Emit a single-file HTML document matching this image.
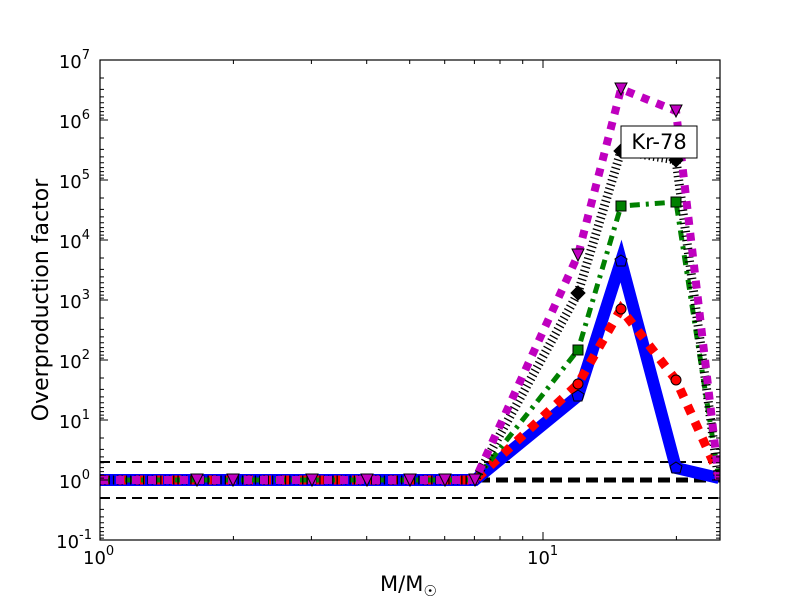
<!DOCTYPE html>
<html><head><meta charset="utf-8"><style>
body{margin:0;background:#fff;}
svg text{font-family:"DejaVu Sans","Liberation Sans",sans-serif;fill:#000;}
</style></head><body>
<svg width="800" height="600" xmlns="http://www.w3.org/2000/svg">
<defs><clipPath id="c"><rect x="100" y="60" width="620" height="480"/></clipPath></defs>
<rect width="800" height="600" fill="#fff"/>
<g clip-path="url(#c)" fill="none" stroke-linejoin="miter">
<line x1="100" y1="462" x2="720" y2="462" stroke="#000" stroke-width="2" stroke-dasharray="10 6"/>
<line x1="100" y1="498" x2="720" y2="498" stroke="#000" stroke-width="2" stroke-dasharray="10 6"/>
<line x1="100" y1="480" x2="720" y2="480" stroke="#000" stroke-width="5" stroke-dasharray="12 6"/>
<polyline stroke="#0000ff" stroke-width="12" points="100,480 197,480 233,480 312,480 367,480 410,480 445,480 475,480 578,396 621,261 676,468 719,478"/>
<polyline stroke="#ff0000" stroke-width="9" stroke-dasharray="9 9" points="100,480 197,480 233,480 312,480 367,480 410,480 445,480 475,480 578,384 621,309 676,380 719,475"/>
<polyline stroke="#008000" stroke-width="5" stroke-dasharray="10 6 3 6" points="100,480 197,480 233,480 312,480 367,480 410,480 445,480 475,480 578,350 621,206 676,202 719,480"/>
<polyline stroke="#000" stroke-width="9" stroke-dasharray="1.3 3" points="100,480 197,480 233,480 312,480 367,480 410,480 445,480 475,480 578,293 621,151 676,160 719,482"/>
<polyline stroke="#bf00bf" stroke-width="8" stroke-dasharray="8 8" points="100,480 197,480 233,480 312,480 367,480 410,480 445,480 475,480 578,255 621,89 676,111 719,480"/>
<g stroke="#000" stroke-width="1">
<polygon fill="#0000ff" points="621,255 627,259 625,266 617,266 615,259"/>
<polygon fill="#0000ff" points="578,390 584,394 582,401 574,401 572,394"/>
<polygon fill="#0000ff" points="676,462 682,466 680,473 672,473 670,466"/>
<circle fill="#ff0000" cx="578" cy="384" r="5"/><circle fill="#ff0000" cx="621" cy="309" r="5"/><circle fill="#ff0000" cx="676" cy="380" r="5"/>
<rect fill="#008000" x="573" y="345" width="10" height="10"/><rect fill="#008000" x="616" y="201" width="10" height="10"/><rect fill="#008000" x="671" y="197" width="10" height="10"/>
<polygon fill="#000" points="578,286 585,293 578,300 571,293"/><polygon fill="#000" points="621,144 628,151 621,158 614,151"/><polygon fill="#000" points="676,153 683,160 676,167 669,160"/>
<polygon fill="#bf00bf" points="572,249 584,249 578,261"/><polygon fill="#bf00bf" points="615,83 627,83 621,95"/><polygon fill="#bf00bf" points="670,105 682,105 676,117"/>
<polygon fill="#bf00bf" points="191,474 203,474 197,486"/><polygon fill="#bf00bf" points="227,474 239,474 233,486"/><polygon fill="#bf00bf" points="306,474 318,474 312,486"/><polygon fill="#bf00bf" points="361,474 373,474 367,486"/><polygon fill="#bf00bf" points="404,474 416,474 410,486"/><polygon fill="#bf00bf" points="439,474 451,474 445,486"/><polygon fill="#bf00bf" points="469,474 481,474 475,486"/>
</g>
</g>
<rect x="621" y="126" width="76" height="32" fill="#fff" stroke="#000" stroke-width="1"/>
<text x="659" y="149" font-size="21" text-anchor="middle">Kr-78</text>
<rect x="100" y="60" width="620" height="480" fill="none" stroke="#000" stroke-width="1.2"/>
<g stroke="#000" stroke-width="1">
<path d="M100,120h8M100,180h8M100,240h8M100,300h8M100,360h8M100,420h8M100,480h8M720,120h-8M720,180h-8M720,240h-8M720,300h-8M720,360h-8M720,420h-8M720,480h-8"/>
<path d="M543,540v-8M543,60v8M233.4,540v-4M311.4,540v-4M366.7,540v-4M409.7,540v-4M444.7,540v-4M474.4,540v-4M500,540v-4M522.7,540v-4M676.4,540v-4M233.4,60v4M311.4,60v4M366.7,60v4M409.7,60v4M444.7,60v4M474.4,60v4M500,60v4M522.7,60v4M676.4,60v4"/>
<path id="ym" d="M100,78h4M100,89.4h4M100,96.9h4M100,102.8h4M100,107.6h4M100,111.6h4M100,115.1h4M100,118.1h4"/>
<use href="#ym" y="60"/><use href="#ym" y="120"/><use href="#ym" y="180"/><use href="#ym" y="240"/><use href="#ym" y="300"/><use href="#ym" y="360"/><use href="#ym" y="420"/>
<use href="#ym" x="616"/><use href="#ym" x="616" y="60"/><use href="#ym" x="616" y="120"/><use href="#ym" x="616" y="180"/><use href="#ym" x="616" y="240"/><use href="#ym" x="616" y="300"/><use href="#ym" x="616" y="360"/><use href="#ym" x="616" y="420"/>
</g>
<g font-size="18" text-anchor="end">
<text x="90" y="68">10<tspan font-size="13" dy="-9">7</tspan></text>
<text x="90" y="128">10<tspan font-size="13" dy="-9">6</tspan></text>
<text x="90" y="188">10<tspan font-size="13" dy="-9">5</tspan></text>
<text x="90" y="248">10<tspan font-size="13" dy="-9">4</tspan></text>
<text x="90" y="308">10<tspan font-size="13" dy="-9">3</tspan></text>
<text x="90" y="368">10<tspan font-size="13" dy="-9">2</tspan></text>
<text x="90" y="428">10<tspan font-size="13" dy="-9">1</tspan></text>
<text x="90" y="488">10<tspan font-size="13" dy="-9">0</tspan></text>
<text x="92" y="548">10<tspan font-size="13" dy="-9">-1</tspan></text>
</g>
<g font-size="18">
<text x="83" y="564">10<tspan font-size="13" dy="-9">0</tspan></text>
<text x="527" y="564">10<tspan font-size="13" dy="-9">1</tspan></text>
</g>
<text x="380" y="591" font-size="21">M/M<tspan font-size="15" dy="5">☉</tspan></text>
<text transform="translate(48,300) rotate(-90)" font-size="22" text-anchor="middle">Overproduction factor</text>
</svg>
</body></html>
